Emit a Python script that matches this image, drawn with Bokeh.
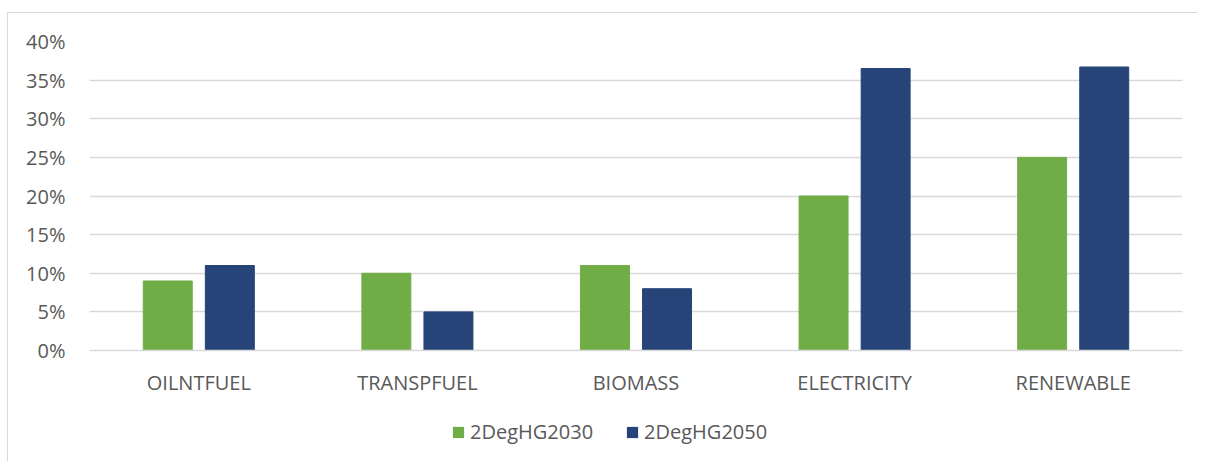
from bokeh.plotting import figure
from bokeh.layouts import column
from bokeh.models import FactorRange, Range1d, NumeralTickFormatter, Legend, LegendItem, ColumnDataSource, FixedTicker
from bokeh.transform import dodge
from bokeh.embed import file_html
from bokeh.resources import INLINE

categories = ["OILNTFUEL", "TRANSPFUEL", "BIOMASS", "ELECTRICITY", "RENEWABLE"]
series_names = ["2DegHG2030", "2DegHG2050"]
values_2030 = [0.09, 0.10, 0.11, 0.20, 0.25]
values_2050 = [0.11, 0.05, 0.08, 0.365, 0.367]
y_ticks = [0.0, 0.05, 0.10, 0.15, 0.20, 0.25, 0.30, 0.35, 0.40]

GREEN = "#70AD47"
BLUE = "#264478"
TEXT = "#595959"
GRID = "#D9D9D9"
FONT = "Open Sans"
FS = "20px"

source = ColumnDataSource(dict(cat=categories, v30=values_2030, v50=values_2050))

p = figure(
    x_range=FactorRange(*categories, range_padding=0),
    y_range=Range1d(0, 0.40),
    width=1189, height=388,
    output_backend="svg", toolbar_location=None,
    min_border_left=81, min_border_right=15, min_border_top=28, min_border_bottom=51,
)
p.outline_line_color = None
p.background_fill_color = "white"
p.border_fill_color = "white"

r1 = p.vbar(x=dodge("cat", -0.142, range=p.x_range), top="v30", width=0.224, source=source,
            fill_color=GREEN, line_color=GREEN)
r2 = p.vbar(x=dodge("cat", 0.142, range=p.x_range), top="v50", width=0.224, source=source,
            fill_color=BLUE, line_color=BLUE)

p.xgrid.grid_line_color = None
p.ygrid.grid_line_color = GRID
p.ygrid.grid_line_width = 1.3
p.yaxis.ticker = FixedTicker(ticks=y_ticks)
p.yaxis.formatter = NumeralTickFormatter(format="0%")

for ax in (p.xaxis, p.yaxis):
    ax.major_tick_line_color = None
    ax.minor_tick_line_color = None
    ax.major_label_text_font = FONT
    ax.major_label_text_font_size = FS
    ax.major_label_text_color = TEXT
p.yaxis.axis_line_color = None
p.xaxis.axis_line_color = GRID
p.xaxis.axis_line_width = 1.3
p.yaxis.major_label_standoff = 18
p.xaxis.major_label_standoff = 12

# legend strip below the chart (proxy renderers lie outside its visible range)
lg = figure(
    x_range=Range1d(0, 1), y_range=Range1d(0, 1),
    width=1189, height=60,
    output_backend="svg", toolbar_location=None,
    min_border_left=0, min_border_right=0, min_border_top=0, min_border_bottom=0,
)
lg.axis.visible = False
lg.grid.visible = False
lg.outline_line_color = None
lg.border_fill_color = "white"
proxy = ColumnDataSource(dict(x=[-5.0], top=[0.0]))
d1 = lg.vbar(x="x", top="top", width=0.1, source=proxy, fill_color=GREEN, line_color=None)
d2 = lg.vbar(x="x", top="top", width=0.1, source=proxy, fill_color=BLUE, line_color=None)

legend = Legend(
    items=[LegendItem(label=series_names[0], renderers=[d1]),
           LegendItem(label=series_names[1], renderers=[d2])],
    orientation="horizontal",
    location=(362, 16),
    glyph_width=14, glyph_height=14,
    label_text_font=FONT, label_text_font_size=FS, label_text_color=TEXT,
    label_standoff=5, spacing=32, padding=0, margin=0,
    border_line_color=None, background_fill_alpha=0,
)
lg.add_layout(legend, "center")

layout = column(p, lg, spacing=0)
layout.margin = (12, 0, 0, 7)
layout.styles = {"border-left": "1px solid #D9D9D9", "border-top": "1px solid #D9D9D9"}

open("out.html", "w").write(file_html(layout, INLINE))
